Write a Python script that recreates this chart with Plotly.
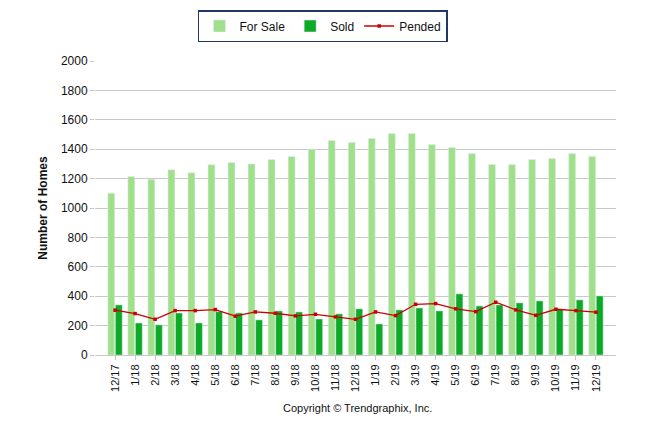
import plotly.graph_objects as go

# monthly figures, 12/17 - 12/19
months = ["12/17", "1/18", "2/18", "3/18", "4/18", "5/18", "6/18", "7/18", "8/18",
          "9/18", "10/18", "11/18", "12/18", "1/19", "2/19", "3/19", "4/19", "5/19",
          "6/19", "7/19", "8/19", "9/19", "10/19", "11/19", "12/19"]

for_sale = [1100, 1215, 1195, 1260, 1240, 1295, 1310, 1300, 1330, 1350, 1400, 1460, 1445,
            1473, 1507, 1507, 1432, 1412, 1371, 1296, 1296, 1330, 1337, 1371, 1350]

sold = [341, 218, 205, 286, 218, 295, 286, 239, 300, 293, 245, 280, 314,
        211, 307, 320, 300, 416, 334, 341, 355, 368, 314, 375, 402]

pended = [305, 282, 243, 302, 302, 309, 264, 293, 284, 266, 277, 259, 243,
          293, 268, 345, 350, 314, 295, 359, 307, 270, 311, 302, 291]

font = "Liberation Sans"

fig = go.Figure()
fig.add_trace(go.Bar(x=months, y=for_sale, name="For Sale", marker_color="#A0E08A"))
fig.add_trace(go.Bar(x=months, y=sold, name="Sold", marker_color="#0DAA27"))
fig.add_trace(go.Scatter(x=months, y=pended, name="Pended", mode="lines+markers",
                         line=dict(color="#CC0000", width=1.3),
                         marker=dict(symbol="square", size=3.5, color="#CC0000")))

# page body has an 8px offset, margins are set to compensate
fig.update_layout(
    width=646, height=434,
    margin=dict(l=87, r=38, t=53, b=87, autoexpand=False),
    paper_bgcolor="white", plot_bgcolor="white",
    font=dict(family=font, size=12, color="#111111"),
    barmode="group", bargap=0.25, bargroupgap=0.08,
    showlegend=True,
    legend=dict(orientation="h", x=0.4876, xref="container", xanchor="center",
                y=0.9585, yref="container", yanchor="middle",
                bordercolor="#1F3864", borderwidth=1.5, bgcolor="white",
                font=dict(size=12, color="#111111"), itemwidth=30),
    annotations=[dict(text="Copyright © Trendgraphix, Inc.", xref="paper", yref="paper",
                      x=0.503, y=-0.18, yanchor="middle", showarrow=False,
                      font=dict(size=11, color="#111111"))],
)

fig.update_xaxes(type="category", range=[-1, 25], showgrid=False,
                 showline=True, linecolor="#C8C8C8", linewidth=1,
                 ticks="outside", ticklen=4, tickcolor="#C8C8C8",
                 tickangle=-90, tickfont=dict(size=11))
fig.update_yaxes(range=[0, 2000], dtick=200, showgrid=True, gridcolor="#C8C8C8",
                 zeroline=False, showline=False, ticks="outside", ticklen=4,
                 tickcolor="#C8C8C8", tickfont=dict(size=12),
                 title=dict(text="<b>Number of Homes</b>", font=dict(size=12), standoff=10))

fig.write_html("out.html")
